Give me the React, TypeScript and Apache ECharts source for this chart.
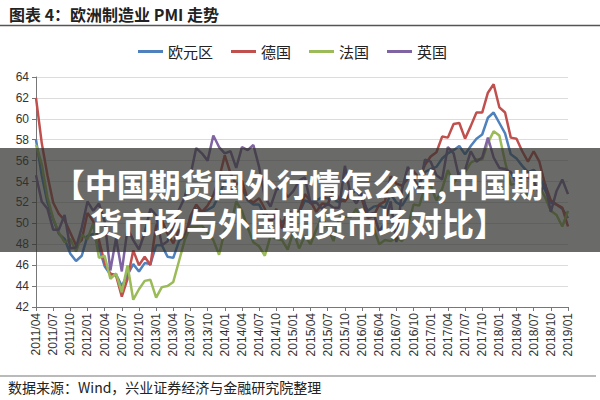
import React, { useEffect, useRef } from "react";
import * as echarts from "echarts";

const months: string[] = (() => {
  const out: string[] = [];
  for (let y = 2011; y <= 2019; y++) {
    for (let m = 1; m <= 12; m++) {
      if (y === 2011 && m < 4) continue;
      if (y === 2019 && m > 1) continue;
      out.push(`${y}/${m < 10 ? "0" + m : m}`);
    }
  }
  return out;
})();

const eurozone = [
  58.0, 54.6, 52.0, 50.4, 49.0, 48.5, 47.1, 46.4, 46.9,
  48.8, 49.0, 47.7, 45.9, 45.1, 45.1, 44.0, 45.1, 46.1, 45.4, 46.2, 46.1,
  47.9, 47.9, 46.8, 46.7, 48.3, 48.8, 50.3, 51.4, 51.1, 51.3, 51.6, 52.7,
  54.0, 53.2, 53.0, 53.4, 52.2, 51.8, 51.8, 50.7, 50.3, 50.6, 50.1, 50.6,
  51.0, 51.0, 52.2, 52.0, 52.2, 52.5, 52.4, 52.3, 52.0, 52.3, 52.8, 53.2,
  52.3, 51.2, 51.6, 51.7, 51.5, 52.8, 52.0, 51.7, 52.6, 53.5, 53.7, 54.9,
  55.2, 55.4, 56.2, 56.7, 57.0, 57.4, 56.6, 57.4, 58.1, 58.5, 60.1, 60.6,
  59.6, 58.6, 56.6, 56.2, 55.5, 54.9, 55.1, 54.6, 53.2, 52.0, 51.8, 51.4,
  50.5,
];
const germany = [
  62.0, 57.7, 54.6, 52.0, 50.9, 50.3, 49.1, 47.9, 48.4,
  51.0, 50.2, 48.4, 46.2, 45.2, 45.0, 43.0, 44.7, 47.4, 46.0, 46.8, 46.0,
  49.8, 50.3, 49.0, 48.1, 49.4, 48.6, 50.7, 51.8, 51.1, 51.7, 52.7, 54.3,
  56.5, 54.8, 53.7, 54.1, 52.3, 52.0, 52.4, 51.4, 49.9, 51.4, 49.5, 51.2,
  50.9, 51.1, 52.8, 52.1, 51.1, 51.9, 51.8, 53.3, 52.3, 52.1, 52.9, 53.2,
  52.3, 50.5, 50.7, 51.8, 52.1, 54.5, 53.8, 53.6, 54.3, 55.0, 54.3, 55.6,
  56.4, 56.8, 58.3, 58.2, 59.5, 59.6, 58.1, 59.3, 60.6, 60.6, 62.5, 63.3,
  61.1, 60.6, 58.2, 58.1, 56.9, 55.9, 56.9, 55.9, 53.7, 52.2, 51.8, 51.5,
  49.7,
];
const france = [
  57.5, 55.7, 52.5, 50.5, 49.1, 48.2, 48.5, 47.3, 48.9,
  48.5, 50.0, 46.7, 46.9, 44.7, 45.2, 43.4, 46.0, 42.7, 43.7, 44.5, 44.6,
  42.9, 43.9, 44.0, 44.4, 46.4, 48.4, 49.7, 49.7, 49.8, 49.1, 48.4, 47.0,
  49.3, 49.7, 52.1, 51.2, 49.6, 48.2, 47.8, 46.9, 48.8, 48.5, 48.4, 47.5,
  49.2, 47.6, 48.8, 48.0, 49.4, 50.7, 49.6, 48.3, 50.6, 50.6, 50.6, 51.4,
  50.0, 50.2, 49.6, 48.0, 48.4, 48.3, 48.6, 48.3, 49.7, 51.8, 51.7, 53.5,
  53.6, 52.2, 53.3, 55.1, 53.8, 54.8, 54.9, 55.8, 56.1, 56.1, 57.7, 58.8,
  58.4, 55.9, 53.7, 53.8, 54.4, 52.5, 53.3, 53.5, 52.5, 51.2, 50.8, 49.7,
  51.2,
];
const uk = [
  54.6, 52.1, 51.4, 49.4, 49.4, 50.8, 47.6, 47.7, 49.6,
  52.1, 51.2, 51.9, 50.2, 45.5, 48.6, 45.4, 49.5, 48.4, 47.5, 49.1, 51.4,
  50.8, 47.9, 48.3, 49.8, 51.3, 52.5, 54.6, 57.2, 56.7, 56.0, 58.4, 57.3,
  56.7, 56.9, 55.3, 57.3, 57.0, 57.5, 55.4, 52.5, 51.6, 53.2, 53.5, 52.5,
  53.1, 54.1, 54.4, 51.9, 52.0, 51.4, 51.9, 51.5, 51.5, 55.5, 52.7, 51.9,
  52.9, 50.8, 51.0, 49.2, 50.1, 52.1, 48.2, 53.3, 55.4, 54.3, 53.4, 56.1,
  55.9, 54.6, 54.2, 57.3, 56.7, 54.3, 55.1, 56.9, 55.9, 56.3, 58.2, 56.3,
  55.3, 55.2, 54.9, 53.9, 54.4, 54.4, 54.0, 52.8, 53.8, 51.1, 53.1, 54.2,
  52.8,
];

const seriesNames = ["欧元区", "德国", "法国", "英国"];
const seriesColors = ["#4f81bd", "#c0504d", "#9bbb59", "#8064a2"];
const seriesData = [eurozone, germany, france, uk];

const titleText = "图表 4：欧洲制造业 PMI 走势";
const sourceText = "数据来源：Wind，兴业证券经济与金融研究院整理";
const bannerLines = ["【中国期货国外行情怎么样,中国期", "货市场与外国期货市场对比】"];

export default function App() {
  const ref = useRef<HTMLDivElement>(null);
  useEffect(() => {
    if (!ref.current) return;
    const chart = echarts.init(ref.current, null, { renderer: "svg" });
    const cjk = "'Noto Sans CJK SC', sans-serif";
    chart.setOption({
      animation: false,
      backgroundColor: "#fff",
      legend: {
        left: 133,
        top: 39,
        itemWidth: 25,
        itemHeight: 3,
        itemGap: 18,
        icon: "rect",
        textStyle: { fontSize: 15, color: "#222", fontFamily: cjk },
        data: seriesNames,
      },
      grid: { left: 36, right: 32, top: 77, bottom: 93, containLabel: false },
      xAxis: {
        type: "category",
        data: months,
        boundaryGap: false,
        axisLine: { lineStyle: { color: "#777" } },
        axisTick: { interval: 2, length: 4, lineStyle: { color: "#777" } },
        axisLabel: {
          interval: 2,
          rotate: 90,
          fontSize: 12,
          color: "#333",
          fontFamily: "'Liberation Sans', sans-serif",
          margin: 6,
        },
        splitLine: { show: false },
      },
      yAxis: {
        type: "value",
        min: 42,
        max: 64,
        interval: 2,
        axisLine: { show: true, lineStyle: { color: "#777" } },
        axisTick: { show: true, length: 4, lineStyle: { color: "#777" } },
        axisLabel: {
          fontSize: 12,
          color: "#333",
          fontFamily: "'Liberation Sans', sans-serif",
          margin: 7,
        },
        splitLine: { lineStyle: { color: "#dcdcdc" } },
      },
      series: seriesNames.map((name, i) => ({
        name,
        type: "line",
        data: seriesData[i],
        showSymbol: false,
        symbol: "none",
        itemStyle: { color: seriesColors[i] },
        lineStyle: { color: seriesColors[i], width: 2.5 },
      })),
      graphic: [
        {
          type: "text",
          left: 9,
          top: 6,
          style: {
            text: titleText,
            fontSize: 16,
            fontWeight: "bold",
            fill: "#222",
            fontFamily: cjk,
          },
        },
        {
          type: "line",
          shape: { x1: 0, y1: 25.5, x2: 600, y2: 25.5 },
          style: { stroke: "#555", lineWidth: 1.5 },
        },
        {
          type: "line",
          shape: { x1: 0, y1: 376, x2: 596, y2: 376 },
          style: { stroke: "#777", lineWidth: 1.2 },
        },
        {
          type: "text",
          left: 8,
          top: 380,
          style: {
            text: sourceText,
            fontSize: 14,
            fill: "#222",
            fontFamily: cjk,
          },
        },
        {
          type: "rect",
          shape: { x: 0, y: 148, width: 600, height: 104 },
          style: { fill: "rgba(48,50,46,0.72)" },
          z: 100,
        },
        {
          type: "text",
          x: 298,
          y: 202.5,
          z: 101,
          style: {
            text: bannerLines.join("\n"),
            fontSize: 32,
            lineHeight: 39,
            fontWeight: "bold",
            fill: "#fff",
            align: "center",
            verticalAlign: "middle",
            fontFamily: cjk,
          },
        },
      ],
    });
    return () => chart.dispose();
  }, []);
  return (
    <div
      ref={ref}
      style={{ position: "fixed", left: 0, top: 0, width: 600, height: 400 }}
    />
  );
}
